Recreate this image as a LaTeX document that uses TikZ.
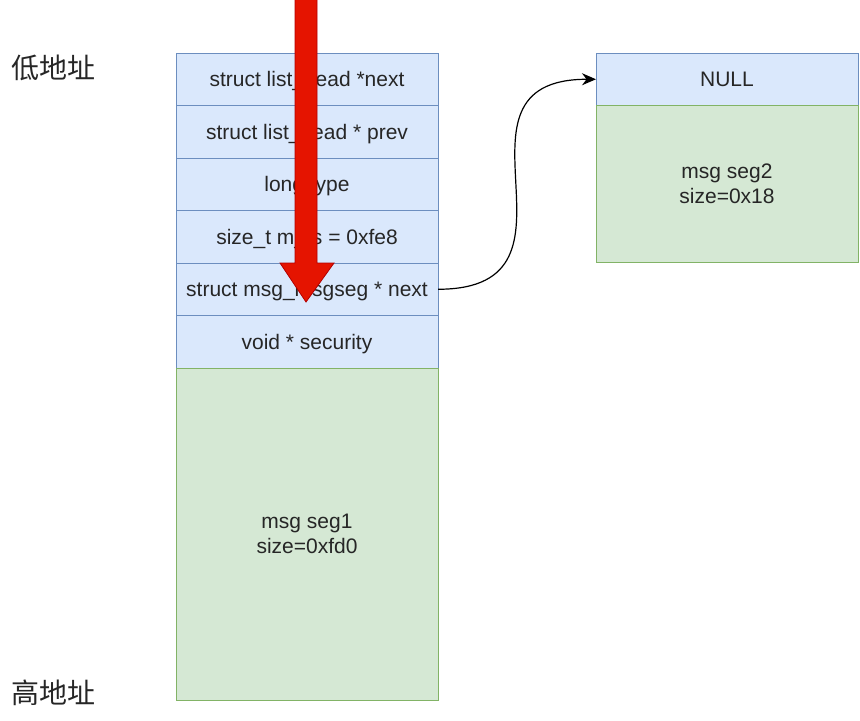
\documentclass[tikz,border=0pt]{standalone}
\usepackage{fontspec}
\setmainfont{Liberation Sans}
\newfontfamily\cjk{Noto Sans CJK SC}
\usetikzlibrary{positioning, arrows.meta}

\definecolor{blueFill}{HTML}{DAE8FC}
\definecolor{blueLine}{HTML}{6C8EBF}
\definecolor{greenFill}{HTML}{D5E8D4}
\definecolor{greenLine}{HTML}{82B366}
\definecolor{redFill}{HTML}{E51400}
\definecolor{redLine}{HTML}{B20000}

\tikzset{
    field/.style={rectangle, draw=blueLine, fill=blueFill, line width=0.5pt,
        minimum width=131pt, minimum height=26.25pt, inner sep=0pt, outer sep=0pt,
        text height=7.5pt, text depth=0pt,
        font=\fontsize{10.5pt}{12.6pt}\selectfont, text=black!85},
    segbody/.style={rectangle, draw=greenLine, fill=greenFill, line width=0.5pt,
        minimum width=131pt, inner sep=0pt, outer sep=0pt, align=center,
        font=\fontsize{10.5pt}{12.6pt}\selectfont, text=black!85},
    addr/.style={font=\cjk\fontsize{14pt}{16pt}\selectfont, text=black!85},
}

\begin{document}
\begin{tikzpicture}[x=0.5pt, y=-0.5pt]
    \useasboundingbox (0,0) rectangle (860,720);

    % message header of the first segment
    \node [field, anchor=north west] (head) at (176,53) {struct list\_head *next};
    \node [field, below=0pt of head] (prev) {struct list\_head * prev};
    \node [field, below=0pt of prev] (type) {long type};
    \node [field, below=0pt of type] (mts) {size\_t m\_ts = 0xfe8};
    \node [field, below=0pt of mts] (segnext) {struct msg\_msgseg * next};
    \node [field, below=0pt of segnext] (sec) {void * security};
    \node [segbody, below=0pt of sec, minimum height=166pt] (seg1) {msg seg1\\size=0xfd0};

    % second segment
    \node [field, anchor=north west] (null) at (596,53) {NULL};
    \node [segbody, below=0pt of null, minimum height=78.5pt] (seg2) {msg seg2\\size=0x18};

    % address labels
    \node [addr] (low) at (53,68) {低地址};
    \node [addr] (high) at (53,693) {高地址};

    % red arrow over the header
    \fill [redFill, draw=redLine, line width=0.4pt]
        (295,-2) -- (317,-2) -- (317,263) -- (334,263) -- (306,302)
        -- (280,263) -- (295,263) -- cycle;

    % pointer to the next segment
    \draw [-{Stealth[length=7pt, width=6pt]}, line width=0.6pt]
        (segnext.east) to [out=0, in=180, looseness=1.6] (null.west);
\end{tikzpicture}
\end{document}
